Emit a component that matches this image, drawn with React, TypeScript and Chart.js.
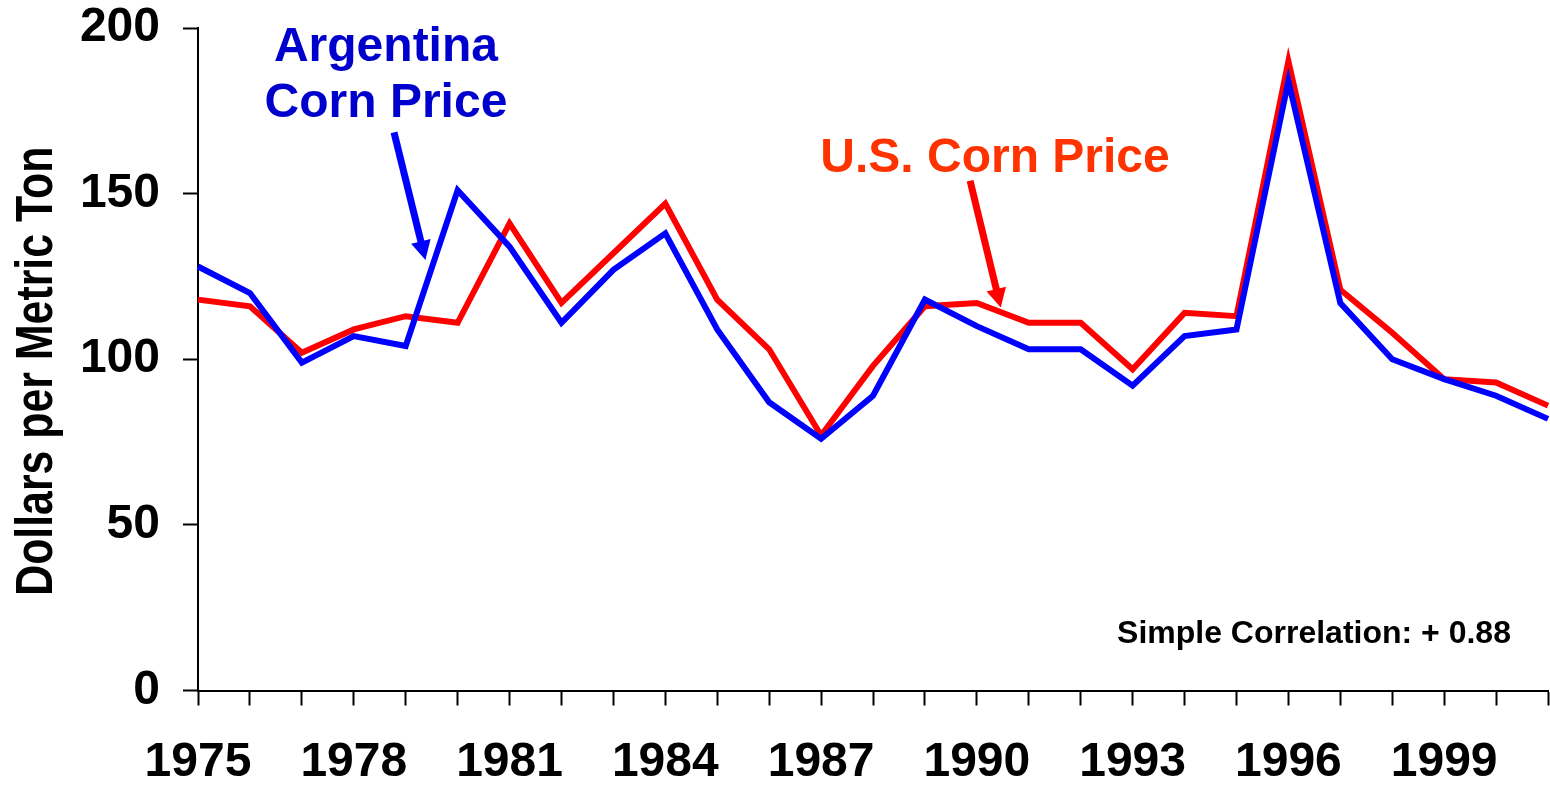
import React, { useEffect, useRef } from 'react';
import { Chart, registerables } from 'chart.js';

Chart.register(...registerables);

// ---- data ----
const years = [
  '1975', '1976', '1977', '1978', '1979', '1980', '1981', '1982', '1983',
  '1984', '1985', '1986', '1987', '1988', '1989', '1990', '1991', '1992',
  '1993', '1994', '1995', '1996', '1997', '1998', '1999', '2000', '2001',
];
const usCornPrice = [
  118, 116, 102, 109, 113, 111, 141, 117, 132,
  147, 118, 103, 77, 98, 116, 117, 111, 111,
  97, 114, 113, 190, 121, 108, 94, 93, 86,
];
const argentinaCornPrice = [
  128, 120, 99, 107, 104, 151, 134, 111, 127,
  138, 109, 87, 76, 89, 118, 110, 103, 103,
  92, 107, 109, 184, 117, 100, 94, 89, 82,
];
const xTickLabels = ['1975', '1978', '1981', '1984', '1987', '1990', '1993', '1996', '1999'];
const yTickValues = [0, 50, 100, 150, 200];
const yAxisTitle = 'Dollars per Metric Ton';

// annotation anchors in data space: [category index, value]
const argLabelLines = ['Argentina', 'Corn Price'];
const argLabelAnchors = [[3.62, 190], [3.62, 173]];
const argArrow = { from: [3.775, 168.5], to: [4.38, 130.0] };
const usLabel = 'U.S. Corn Price';
const usLabelAnchor = [15.35, 156.4];
const usArrow = { from: [14.87, 153.9], to: [15.46, 115.6] };
const correlationText = 'Simple Correlation: + 0.88';
const correlationAnchor = [17.7, 14.35];

const FONT = '"Liberation Sans", Arial, Helvetica, sans-serif';
const BLUE_LINE = '#0000FF';
const RED_LINE = '#FF0000';
const BLUE_TEXT = '#0000CC';
const RED_TEXT = '#FF3300';

function drawArrow(ctx: CanvasRenderingContext2D, x1: number, y1: number, x2: number, y2: number, color: string) {
  const dx = x2 - x1;
  const dy = y2 - y1;
  const len = Math.sqrt(dx * dx + dy * dy);
  const ux = dx / len;
  const uy = dy / len;
  const headLen = 19;
  const headHalf = 10;
  const bx = x2 - ux * headLen;
  const by = y2 - uy * headLen;
  ctx.save();
  ctx.strokeStyle = color;
  ctx.fillStyle = color;
  ctx.lineWidth = 7;
  ctx.lineCap = 'butt';
  ctx.beginPath();
  ctx.moveTo(x1, y1);
  ctx.lineTo(bx + ux * 1, by + uy * 1);
  ctx.stroke();
  ctx.beginPath();
  ctx.moveTo(x2, y2);
  ctx.lineTo(bx - uy * headHalf, by + ux * headHalf);
  ctx.lineTo(bx + uy * headHalf, by - ux * headHalf);
  ctx.closePath();
  ctx.fill();
  ctx.restore();
}

const annotationPlugin = {
  id: 'cornAnnotations',
  afterDraw(chart: any) {
    const ctx: CanvasRenderingContext2D = chart.ctx;
    const xs = chart.scales.x;
    const ys = chart.scales.y;
    const px = (p: number[]) => [xs.getPixelForValue(p[0]), ys.getPixelForValue(p[1])];

    ctx.save();
    // y axis title (narrow bold)
    const area = chart.chartArea;
    const cy = (area.top + area.bottom) / 2 + 12;
    ctx.translate(ys.left + 52, cy);
    ctx.rotate(-Math.PI / 2);
    ctx.scale(0.84, 1);
    ctx.font = `bold 51px ${FONT}`;
    ctx.fillStyle = '#000';
    ctx.textAlign = 'center';
    ctx.textBaseline = 'alphabetic';
    ctx.fillText(yAxisTitle, 0, 0);
    ctx.restore();

    ctx.save();
    ctx.textAlign = 'center';
    ctx.textBaseline = 'alphabetic';
    ctx.font = `bold 48px ${FONT}`;
    ctx.fillStyle = BLUE_TEXT;
    argLabelLines.forEach((line, i) => {
      const [x, y] = px(argLabelAnchors[i]);
      ctx.fillText(line, x, y);
    });
    ctx.fillStyle = RED_TEXT;
    {
      const [x, y] = px(usLabelAnchor);
      ctx.fillText(usLabel, x, y);
    }
    ctx.fillStyle = '#000';
    ctx.textAlign = 'left';
    ctx.font = `bold 32px ${FONT}`;
    {
      const [x, y] = px(correlationAnchor);
      ctx.fillText(correlationText, x, y);
    }
    ctx.restore();

    {
      const [x1, y1] = px(argArrow.from);
      const [x2, y2] = px(argArrow.to);
      drawArrow(ctx, x1, y1, x2, y2, BLUE_LINE);
    }
    {
      const [x1, y1] = px(usArrow.from);
      const [x2, y2] = px(usArrow.to);
      drawArrow(ctx, x1, y1, x2, y2, RED_LINE);
    }
  },
};

export default function App() {
  const canvasRef = useRef<HTMLCanvasElement | null>(null);

  useEffect(() => {
    if (!canvasRef.current) return;
    const chart = new Chart(canvasRef.current, {
      type: 'line',
      data: {
        labels: years,
        datasets: [
          {
            label: 'Argentina Corn Price',
            data: argentinaCornPrice,
            borderColor: BLUE_LINE,
            backgroundColor: BLUE_LINE,
            borderWidth: 6,
            pointRadius: 0,
            tension: 0,
            fill: false,
            order: 0,
          },
          {
            label: 'U.S. Corn Price',
            data: usCornPrice,
            borderColor: RED_LINE,
            backgroundColor: RED_LINE,
            borderWidth: 6,
            pointRadius: 0,
            tension: 0,
            fill: false,
            order: 1,
          },
        ],
      },
      options: {
        animation: false,
        responsive: false,
        events: [],
        layout: { padding: { top: 28, right: 2, left: 0, bottom: 0 } },
        plugins: {
          legend: { display: false },
          tooltip: { enabled: false },
          title: { display: false },
        },
        scales: {
          x: {
            type: 'category',
            offset: false,
            grid: {
              drawOnChartArea: false,
              drawTicks: true,
              tickLength: 15,
              tickWidth: 2,
              tickColor: '#000',
              color: '#000',
            },
            border: { display: true, color: '#000', width: 2 },
            ticks: {
              autoSkip: false,
              maxRotation: 0,
              minRotation: 0,
              padding: 0,
              color: '#000',
              font: { family: FONT, size: 48, weight: 'bold', lineHeight: 2.37 },
              callback: (_v: any, i: number) => (xTickLabels.includes(years[i]) ? years[i] : ''),
            },
            afterFit: (s: any) => {
              s.height = 94.5;
            },
          },
          y: {
            type: 'linear',
            min: 0,
            max: 200,
            afterBuildTicks: (s: any) => {
              s.ticks = yTickValues.map((v) => ({ value: v }));
            },
            grid: {
              drawOnChartArea: false,
              drawTicks: true,
              tickLength: 15,
              tickWidth: 2,
              tickColor: '#000',
              color: '#000',
            },
            border: { display: true, color: '#000', width: 2 },
            ticks: {
              padding: 23,
              color: '#000',
              font: { family: FONT, size: 48, weight: 'bold', lineHeight: 0.1 },
            },
            afterFit: (s: any) => {
              s.width = 198;
            },
          },
        },
      },
      plugins: [annotationPlugin],
    } as any);
    return () => chart.destroy();
  }, []);

  return (
    <div style={{ position: 'absolute', left: 0, top: 0, width: 1550, height: 785, background: '#fff' }}>
      <canvas ref={canvasRef} width={1550} height={785} style={{ display: 'block' }} />
    </div>
  );
}
